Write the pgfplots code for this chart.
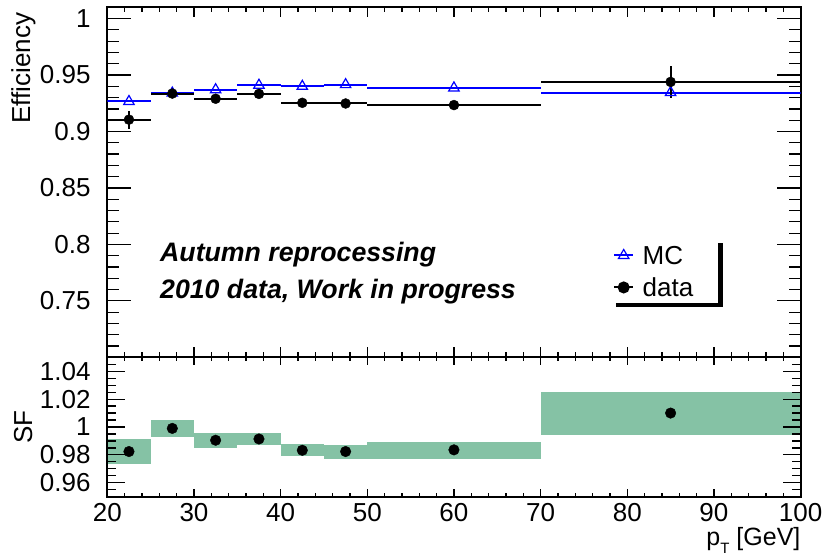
\documentclass[border=0pt]{standalone}
\usepackage{fontspec}
\setmainfont{Liberation Sans}
\usepackage{pgfplots}
\usepackage{pgfplotstable}
\pgfplotsset{compat=1.18}

\definecolor{sfgreen}{RGB}{133,194,165}
\newcommand{\lblfont}{\fontsize{26}{31}\selectfont}

% efficiency per pT bin: bin centre, half width, MC, data, data uncertainty
\pgfplotstableread{
x     xerr  mc      data    derr
22.5  2.5   0.9266  0.9105  0.008
27.5  2.5   0.9340  0.9336  0.0035
32.5  2.5   0.9370  0.9290  0.003
37.5  2.5   0.9410  0.9333  0.003
42.5  2.5   0.9400  0.9254  0.003
47.5  2.5   0.9415  0.9248  0.003
60    10    0.9386  0.9234  0.003
85    15    0.9345  0.9439  0.014
}\efftable

% scale factor data/MC
\pgfplotstableread{
x     sf
22.5  0.9824
27.5  0.9990
32.5  0.9905
37.5  0.9914
42.5  0.9833
47.5  0.9824
60    0.9836
85    1.0100
}\sftable

\pgfplotsset{
  rootstyle/.style={
    scale only axis,
    width=693.3pt,
    xmin=20, xmax=100,
    axis line style={line width=2pt},
    tick style={line width=1.2pt, black},
    tick align=inside,
    xtick={20,30,...,100},
    minor x tick num=4,
    scaled ticks=false,
    tick label style={font=\lblfont},
    /pgf/number format/assume math mode=true,
    yticklabel style={inner sep=0pt, xshift=-16.5pt},
    xticklabel style={inner sep=0pt, yshift=-6.6pt},
  },
}

\begin{document}
\begin{tikzpicture}[x=1pt,y=1pt]
\useasboundingbox (0,0) rectangle (825,555);

% ---------------- efficiency panel ----------------
\begin{axis}[
  rootstyle,
  at={(107.3pt,197.7pt)}, anchor=south west,
  height=350pt,
  ymin=0.70, ymax=1.01,
  ytick={0.75,0.8,0.85,0.9,0.95,1},
  minor ytick={0.71,0.72,0.73,0.74,0.76,0.77,0.78,0.79,0.81,0.82,0.83,0.84,
               0.86,0.87,0.88,0.89,0.91,0.92,0.93,0.94,0.96,0.97,0.98,0.99,1.01},
  xticklabels={},
  major tick length=24pt, minor tick length=12pt,
  every x tick/.append style={/pgfplots/major tick length=10pt,/pgfplots/minor tick length=5pt},
  legend image code/.code={%
    \draw[mark repeat=2,mark phase=2,#1] plot coordinates {(0pt,0pt) (9.5pt,0pt) (19pt,0pt)};},
  legend style={at={(rel axis cs:0.7294,0.318)}, anchor=north west,
    draw=none, fill=none, font=\lblfont, inner sep=0pt,
    row sep=13.5pt, column sep=8.5pt,
    nodes={inner sep=0pt, text height=18.5pt, text depth=0pt},
    cells={anchor=west}},
]
\addlegendimage{blue, line width=2pt, mark=triangle, mark size=6pt,
  mark options={fill=white, line width=1.2pt, solid}}
\addlegendentry{MC}
\addlegendimage{black, line width=2pt, mark=*, mark size=5pt}
\addlegendentry{data}

\addplot[blue, only marks, mark=triangle, mark size=6pt,
  mark options={fill=white, line width=1.2pt},
  error bars/.cd, x dir=both, x explicit, error mark=none,
  error bar style={line width=2pt, blue}]
  table[x=x, y=mc, x error=xerr] {\efftable};

\addplot[black, only marks, mark=*, mark size=5pt,
  error bars/.cd, x dir=both, x explicit, y dir=both, y explicit, error mark=none,
  error bar style={line width=2pt, black}]
  table[x=x, y=data, x error=xerr, y error=derr] {\efftable};

% legend frame shadow
\draw[line width=4.4pt, line join=miter]
  (rel axis cs:0.7337,0.1494) -- (rel axis cs:0.8845,0.1494) -- (rel axis cs:0.8845,0.3257);

\node[anchor=base west, inner sep=0pt, font=\bfseries\itshape\fontsize{26.7}{32}\selectfont]
  at (axis cs:26.08,0.7846) {Autumn reprocessing};
\node[anchor=base west, inner sep=0pt, font=\bfseries\itshape\fontsize{26.7}{32}\selectfont]
  at (axis cs:26.08,0.7519) {2010 data, Work in progress};
\end{axis}

% ---------------- scale-factor panel ----------------
\begin{axis}[
  rootstyle,
  at={(107.3pt,58.3pt)}, anchor=south west,
  height=139.4pt,
  ymin=0.95, ymax=1.05,
  ytick={0.96,0.98,1,1.02,1.04},
  minor ytick={0.955,0.965,0.97,0.975,0.985,0.99,0.995,1.005,1.01,1.015,
               1.025,1.03,1.035,1.045},
  major tick length=18pt, minor tick length=9pt,
  every x tick/.append style={/pgfplots/major tick length=8pt,/pgfplots/minor tick length=4pt},
  axis on top,
]
\addplot[fill=sfgreen, draw=none] coordinates {(20,0.9731) (25,0.9731) (25,0.9912) (20,0.9912)} -- cycle;
\addplot[fill=sfgreen, draw=none] coordinates {(25,0.9930) (30,0.9930) (30,1.0050) (25,1.0050)} -- cycle;
\addplot[fill=sfgreen, draw=none] coordinates {(30,0.9852) (35,0.9852) (35,0.9957) (30,0.9957)} -- cycle;
\addplot[fill=sfgreen, draw=none] coordinates {(35,0.9874) (40,0.9874) (40,0.9957) (35,0.9957)} -- cycle;
\addplot[fill=sfgreen, draw=none] coordinates {(40,0.9793) (45,0.9793) (45,0.9879) (40,0.9879)} -- cycle;
\addplot[fill=sfgreen, draw=none] coordinates {(45,0.9774) (50,0.9774) (50,0.9869) (45,0.9869)} -- cycle;
\addplot[fill=sfgreen, draw=none] coordinates {(50,0.9774) (70,0.9774) (70,0.9893) (50,0.9893)} -- cycle;
\addplot[fill=sfgreen, draw=none] coordinates {(70,0.9945) (100,0.9945) (100,1.0250) (70,1.0250)} -- cycle;

\addplot[black, only marks, mark=*, mark size=5.3pt] table[x=x, y=sf] {\sftable};
\end{axis}

% axis titles
\node[rotate=90, anchor=base east, inner sep=0pt, font=\lblfont] at (30,542.3) {Efficiency};
\node[rotate=90, anchor=base, inner sep=0pt, font=\lblfont] at (32,128) {SF};
\node[anchor=base east, inner sep=0pt, font=\fontsize{25}{30}\selectfont] at (800.6,9.5)
  {p\raisebox{-7.5pt}{\fontsize{15}{15}\selectfont T} [GeV]};
\end{tikzpicture}
\end{document}
